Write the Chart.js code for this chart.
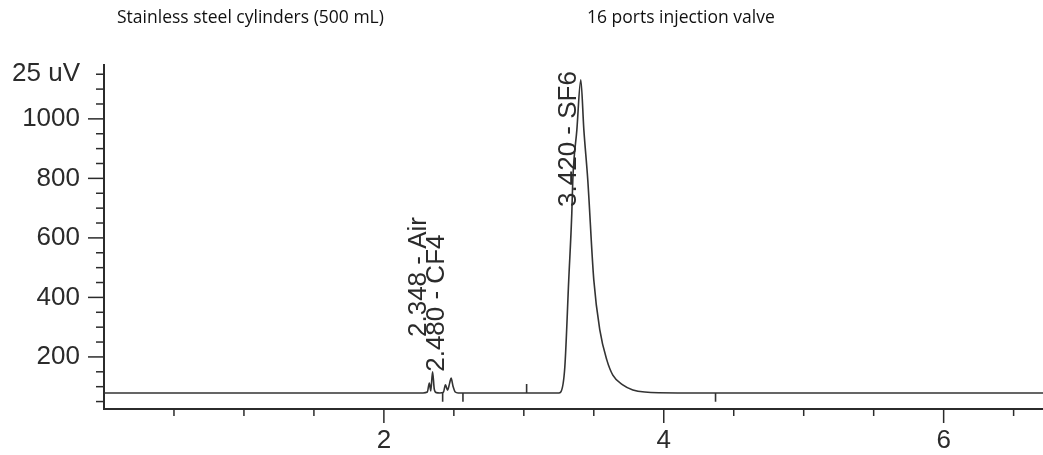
<!DOCTYPE html>
<html>
<head>
<meta charset="utf-8">
<script src="https://cdn.jsdelivr.net/npm/chart.js@4"></script>
<style>
  body { margin: 0; background: #fff; }
  #wrap { position: relative; width: 1043px; height: 455px; }
  .cap { position: absolute; top: 4px; font-family: 'Open Sans', sans-serif; font-size: 17.5px; color: #111; white-space: nowrap; }
</style>
</head>
<body>
<div id="wrap">
  <div class="cap" style="left:117px">Stainless steel cylinders (500 mL)</div>
  <div class="cap" style="left:587px">16 ports injection valve</div>
  <canvas id="chart"></canvas>
</div>
<script>
// retention time (min) / detector signal
const traceTime = [0, 2.28, 2.31, 2.325, 2.335, 2.348, 2.36, 2.375, 2.40, 2.425, 2.44, 2.455, 2.47, 2.48, 2.495, 2.51, 2.53,
    3.25, 3.264, 3.293, 3.321, 3.343, 3.35, 3.379, 3.407, 3.429, 3.457, 3.5, 3.543, 3.593, 3.636, 3.707, 3.779, 3.864, 4.1, 6.71]
const traceSignal = [79, 79, 82, 112, 86, 150, 92, 80, 79, 81, 106, 88, 112, 129, 100, 82, 79,
    79, 82, 166, 459, 684, 795, 963, 1131, 963, 795, 459, 291, 190, 139, 106, 89, 82, 79, 79]

// integration event marks on the baseline
const markerTimes = [2.42, 2.565, 3.02, 4.37]
const markerTips = [49, 49, 109, 49]
const baselineLevel = 79

// peak annotations
const peakNames = ['2.348 - Air', '2.480 - CF4', '3.420 - SF6']
const peakTimes = [2.348, 2.48, 3.42]
const peakLabelFrom = [267, 150, 704]

// axes
const xTickLabels = [2, 4, 6]
const yTickLabels = [200, 400, 600, 800, 1000]
const yUnitAt = 1150
const yUnitLabel = '25 uV'

const INK = '#2b2b2b'
const FONT = "'Liberation Sans', Arial, sans-serif"

const markerPoints = []
markerTimes.forEach((t, i) => {
    markerPoints.push({x: t, y: baselineLevel}, {x: t, y: markerTips[i]}, {x: t, y: null})
})

const axisTicks = {
    id: 'axis-ticks',
    afterDraw(chart) {
        const {ctx, scales: {x, y}, chartArea} = chart
        ctx.save()
        ctx.strokeStyle = INK
        ctx.lineWidth = 1.5
        for (let v = 50; v <= 1150; v += 50) {
            const py = y.getPixelForValue(v)
            const len = yTickLabels.includes(v) ? 16 : 8
            ctx.beginPath()
            ctx.moveTo(chartArea.left - len, py)
            ctx.lineTo(chartArea.left, py)
            ctx.stroke()
        }
        for (let v = 0.5; v <= 6.5; v += 0.5) {
            const px = x.getPixelForValue(v)
            const len = xTickLabels.includes(v) ? 14 : 7
            ctx.beginPath()
            ctx.moveTo(px, chartArea.bottom)
            ctx.lineTo(px, chartArea.bottom + len)
            ctx.stroke()
        }
        ctx.restore()
    },
}

const peakLabels = {
    id: 'peak-labels',
    afterDatasetsDraw(chart) {
        const {ctx, scales: {x, y}} = chart
        ctx.save()
        ctx.fillStyle = INK
        ctx.font = `26px ${FONT}`
        ctx.textAlign = 'left'
        ctx.textBaseline = 'alphabetic'
        peakNames.forEach((name, i) => {
            ctx.save()
            ctx.translate(x.getPixelForValue(peakTimes[i]) - 7, y.getPixelForValue(peakLabelFrom[i]))
            ctx.rotate(-Math.PI / 2)
            ctx.fillText(name, 0, 0)
            ctx.restore()
        })
        ctx.restore()
    },
}

new Chart(document.getElementById('chart'), {
    type: 'line',
    data: {
        datasets: [{
            data: traceTime.map((t, i) => ({x: t, y: traceSignal[i]})),
            borderColor: '#333',
            borderWidth: 1.6,
            pointRadius: 0,
            cubicInterpolationMode: 'monotone',
        }, {
            data: markerPoints,
            borderColor: '#333',
            borderWidth: 1.6,
            pointRadius: 0,
            spanGaps: false,
        }],
    },
    options: {
        responsive: true,
        maintainAspectRatio: false,
        animation: false,
        layout: {padding: {top: 65, right: 0, left: 0, bottom: 0}},
        plugins: {legend: {display: false}, tooltip: {enabled: false}},
        scales: {
            x: {
                type: 'linear',
                min: 0,
                max: 6.71,
                afterBuildTicks: scale => { scale.ticks = xTickLabels.map(v => ({value: v})) },
                afterFit: scale => { scale.height = 46 },
                border: {display: true, color: INK, width: 2},
                grid: {drawOnChartArea: false, drawTicks: true, tickLength: 14, tickColor: 'rgba(0,0,0,0)'},
                ticks: {color: INK, font: {family: FONT, size: 26}, padding: 2, maxRotation: 0, autoSkip: false},
            },
            y: {
                min: 25,
                max: 1181,
                afterBuildTicks: scale => {
                    scale.ticks = [...yTickLabels, yUnitAt].map(v => ({value: v}))
                },
                afterFit: scale => { scale.width = 104 },
                border: {display: true, color: INK, width: 2},
                grid: {drawOnChartArea: false, drawTicks: true, tickLength: 16, tickColor: 'rgba(0,0,0,0)'},
                ticks: {
                    color: INK,
                    font: {family: FONT, size: 26},
                    padding: 8,
                    autoSkip: false,
                    callback: v => v === yUnitAt ? yUnitLabel : v,
                },
            },
        },
    },
    plugins: [axisTicks, peakLabels],
})
</script>
</body>
</html>
